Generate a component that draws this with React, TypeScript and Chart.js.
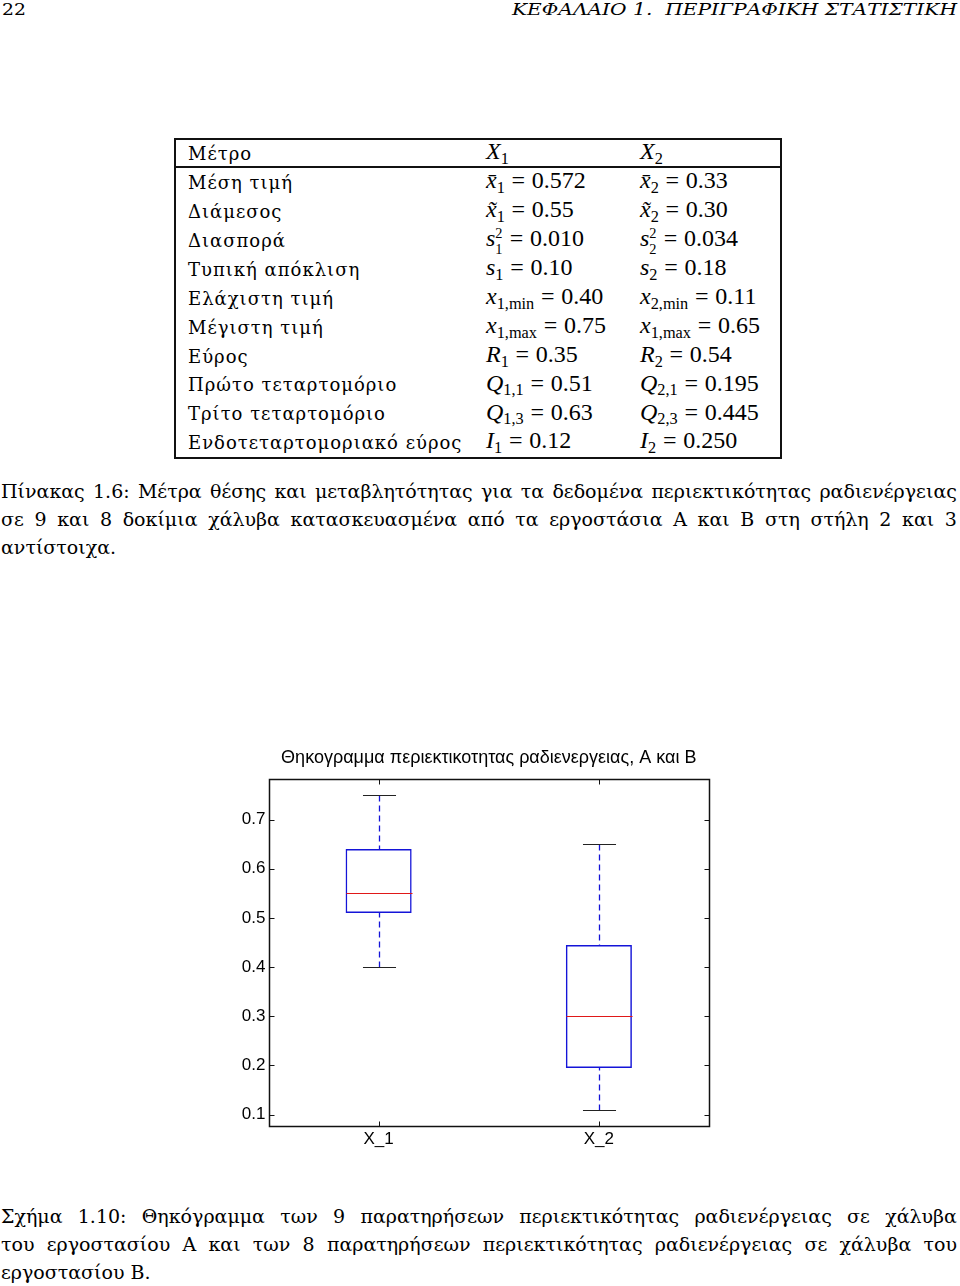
import React, { useEffect, useLayoutEffect, useRef } from "react";
import { Chart, registerables } from "chart.js";

Chart.register(...registerables);

// ---------- chart data ----------
const categories = ["X_1", "X_2"];
const whiskerLow = [0.4, 0.11];
const lowerQuartile = [0.51, 0.195];
const medians = [0.55, 0.3];
const upperQuartile = [0.64, 0.445];
const whiskerHigh = [0.75, 0.65];
const yTickValues = [0.1, 0.2, 0.3, 0.4, 0.5, 0.6, 0.7];
const yAxisMin = 0.0775;
const yAxisMax = 0.7825;
const chartTitle = "Θηκογραμμα περιεκτικοτητας ραδιενεργειας, Α και Β";

// ---------- table data ----------
const tableHead = ["Μέτρο", "X", "X"];
const tableRowLabels = [
  "Μέση τιμή",
  "Διάμεσος",
  "Διασπορά",
  "Τυπική απόκλιση",
  "Ελάχιστη τιμή",
  "Μέγιστη τιμή",
  "Εύρος",
  "Πρώτο τεταρτομόριο",
  "Τρίτο τεταρτομόριο",
  "Ενδοτεταρτομοριακό εύρος",
];
const x1Values = ["0.572", "0.55", "0.010", "0.10", "0.40", "0.75", "0.35", "0.51", "0.63", "0.12"];
const x2Values = ["0.33", "0.30", "0.034", "0.18", "0.11", "0.65", "0.54", "0.195", "0.445", "0.250"];

// ---------- page text ----------
const headerLeft = "22";
const headerRight = "ΚΕΦΑΛΑΙΟ 1.  ΠΕΡΙΓΡΑΦΙΚΗ ΣΤΑΤΙΣΤΙΚΗ";
const tableCaption = [
  "Πίνακας 1.6: Μέτρα θέσης και μεταβλητότητας για τα δεδομένα περιεκτικότητας ραδιενέργειας",
  "σε 9 και 8 δοκίμια χάλυβα κατασκευασμένα από τα εργοστάσια Α και Β στη στήλη 2 και 3",
  "αντίστοιχα.",
];
const figureCaption = [
  "Σχήμα 1.10: Θηκόγραμμα των 9 παρατηρήσεων περιεκτικότητας ραδιενέργειας σε χάλυβα",
  "του εργοστασίου Α και των 8 παρατηρήσεων περιεκτικότητας ραδιενέργειας σε χάλυβα του",
  "εργοστασίου Β.",
];

const BLUE = "#1414d8";
const RED = "#e01818";
const CAP = "#222";

const SERIF = "'DejaVu Serif', serif";
const MATH = "'Liberation Serif', 'Times New Roman', serif";

const boxExtras = {
  id: "boxExtras",
  afterDatasetsDraw(chart: any) {
    const { ctx, chartArea: a, scales } = chart;
    const x = scales.x;
    const y = scales.y;
    const meta = chart.getDatasetMeta(0);
    ctx.save();
    meta.data.forEach((el: any, i: number) => {
      const cx = Math.round(x.getPixelForValue(i)) + 0.5;
      const hw = el.width / 2;
      const pHi = Math.round(y.getPixelForValue(whiskerHigh[i])) + 0.5;
      const pLo = Math.round(y.getPixelForValue(whiskerLow[i])) + 0.5;
      const pQ1 = y.getPixelForValue(lowerQuartile[i]);
      const pQ3 = y.getPixelForValue(upperQuartile[i]);
      const pMed = Math.round(y.getPixelForValue(medians[i])) + 0.5;
      // whiskers
      ctx.lineWidth = 1.3;
      ctx.strokeStyle = BLUE;
      ctx.setLineDash([6, 4]);
      ctx.beginPath();
      ctx.moveTo(cx, pHi);
      ctx.lineTo(cx, pQ3);
      ctx.moveTo(cx, pLo);
      ctx.lineTo(cx, pQ1);
      ctx.stroke();
      ctx.setLineDash([]);
      // caps
      ctx.lineWidth = 1.2;
      ctx.strokeStyle = CAP;
      ctx.beginPath();
      ctx.moveTo(cx - hw / 2, pHi);
      ctx.lineTo(cx + hw / 2, pHi);
      ctx.moveTo(cx - hw / 2, pLo);
      ctx.lineTo(cx + hw / 2, pLo);
      ctx.stroke();
      // median
      ctx.strokeStyle = RED;
      ctx.beginPath();
      ctx.moveTo(cx - hw, pMed);
      ctx.lineTo(cx + hw, pMed);
      ctx.stroke();
    });
    // frame
    const L = Math.round(a.left) + 0.5;
    const R = Math.round(a.right) + 0.5;
    const T = Math.round(a.top) + 0.5;
    const B = Math.round(a.bottom) + 0.5;
    ctx.strokeStyle = "#111";
    ctx.lineWidth = 1.5;
    ctx.strokeRect(L, T, R - L, B - T);
    // inward ticks
    ctx.lineWidth = 1;
    ctx.beginPath();
    yTickValues.forEach((v) => {
      const py = Math.round(y.getPixelForValue(v)) + 0.5;
      ctx.moveTo(L, py);
      ctx.lineTo(L + 5, py);
      ctx.moveTo(R, py);
      ctx.lineTo(R - 5, py);
    });
    categories.forEach((_, i) => {
      const px = Math.round(x.getPixelForValue(i)) + 0.5;
      ctx.moveTo(px, B);
      ctx.lineTo(px, B - 5);
      ctx.moveTo(px, T);
      ctx.lineTo(px, T + 5);
    });
    ctx.stroke();
    // title centred over plot area
    ctx.fillStyle = "#000";
    ctx.font = "18px 'Liberation Sans', Arial, sans-serif";
    ctx.textAlign = "center";
    ctx.textBaseline = "middle";
    ctx.fillText(chartTitle, (a.left + a.right) / 2, 22);
    ctx.restore();
  },
};

function BoxChart() {
  const ref = useRef<HTMLCanvasElement>(null);
  useEffect(() => {
    if (!ref.current) return;
    const chart = new Chart(ref.current, {
      type: "bar",
      data: {
        labels: categories,
        datasets: [
          {
            data: lowerQuartile.map((q, i) => [q, upperQuartile[i]]) as any,
            backgroundColor: "rgba(0,0,0,0)",
            borderColor: BLUE,
            borderWidth: 1.5,
            borderSkipped: false,
            categoryPercentage: 1,
            barPercentage: 0.3,
          },
        ],
      },
      options: {
        responsive: false,
        animation: false,
        devicePixelRatio: 1,
        layout: { padding: { left: 0, right: 31, top: 43, bottom: 0 } },
        plugins: {
          legend: { display: false },
          tooltip: { enabled: false },
          title: { display: false },
        },
        scales: {
          x: {
            type: "category",
            offset: true,
            grid: { display: false, drawTicks: false },
            border: { display: false },
            ticks: {
              padding: 3,
              color: "#000",
              font: { family: "'Liberation Sans', Arial, sans-serif", size: 17 },
            },
            afterFit: (s: any) => {
              s.height = 34.3;
            },
          },
          y: {
            type: "linear",
            min: yAxisMin,
            max: yAxisMax,
            grid: { display: false, drawTicks: false },
            border: { display: false },
            afterBuildTicks: (s: any) => {
              s.ticks = yTickValues.map((v) => ({ value: v }));
            },
            afterFit: (s: any) => {
              s.width = 68.5;
            },
            ticks: {
              padding: 3,
              color: "#000",
              font: { family: "'Liberation Sans', Arial, sans-serif", size: 17 },
              callback: (v: any) => Number(v).toFixed(1),
            },
          },
        },
      },
      plugins: [boxExtras],
    });
    return () => chart.destroy();
  }, []);
  return (
    <canvas
      ref={ref}
      width={540}
      height={424}
      style={{ position: "absolute", left: 200, top: 736, width: 540, height: 424 }}
    />
  );
}

function FitText({ text, width, style }: { text: string; width: number; style: any }) {
  const ref = useRef<HTMLSpanElement>(null);
  useLayoutEffect(() => {
    const el = ref.current;
    if (!el) return;
    el.style.transform = "none";
    const w = el.getBoundingClientRect().width;
    if (w > 0) el.style.transform = `scaleX(${width / w})`;
  }, [text, width]);
  return (
    <span
      ref={ref}
      style={{ display: "inline-block", whiteSpace: "pre", transformOrigin: "left top", ...style }}
    >
      {text}
    </span>
  );
}

function Sub({ children }: { children: any }) {
  return <span style={{ fontSize: "0.68em", position: "relative", top: "0.3em" }}>{children}</span>;
}

// stacked superscript / subscript that does not change the line box
function SupSub({ sup, sub }: { sup: string; sub: string }) {
  const child: any = { position: "absolute", left: 0, fontSize: "0.6em", lineHeight: 0.9 };
  return (
    <span style={{ position: "relative", display: "inline-block", width: "0.32em", height: 1 }}>
      <span style={{ ...child, bottom: 6 }}>{sup}</span>
      <span style={{ ...child, bottom: -10 }}>{sub}</span>
    </span>
  );
}

function lhs(row: number, k: string) {
  switch (row) {
    case 0:
      return (
        <>
          <i>{"x\u0304"}</i>
          <Sub>{k}</Sub>
        </>
      );
    case 1:
      return (
        <>
          <i>{"x\u0303"}</i>
          <Sub>{k}</Sub>
        </>
      );
    case 2:
      return (
        <>
          <i>s</i>
          <SupSub sup="2" sub={k} />
        </>
      );
    case 3:
      return (
        <>
          <i>s</i>
          <Sub>{k}</Sub>
        </>
      );
    case 4:
      return (
        <>
          <i>x</i>
          <Sub>{k},min</Sub>
        </>
      );
    case 5:
      return (
        <>
          <i>x</i>
          <Sub>1,max</Sub>
        </>
      );
    case 6:
      return (
        <>
          <i>R</i>
          <Sub>{k}</Sub>
        </>
      );
    case 7:
      return (
        <>
          <i>Q</i>
          <Sub>{k},1</Sub>
        </>
      );
    case 8:
      return (
        <>
          <i>Q</i>
          <Sub>{k},3</Sub>
        </>
      );
    default:
      return (
        <>
          <i>I</i>
          <Sub>{k}</Sub>
        </>
      );
  }
}

const TXT_F = 18;
const TXT_L = 29;
const TXT_B = TXT_L / 2 + 0.346 * TXT_F;
const MATH_F = 24;
const MATH_B = TXT_L / 2 + 0.3375 * MATH_F;
const ROW0 = 160;
const PITCH = 28.9;
const COLS = [188, 486, 640];

const textCell = (left: number, top: number): any => ({
  position: "absolute",
  left,
  top,
  fontFamily: SERIF,
  fontSize: TXT_F,
  lineHeight: `${TXT_L}px`,
  letterSpacing: "1px",
  whiteSpace: "nowrap",
});
const mathCell = (left: number, top: number): any => ({
  position: "absolute",
  left,
  top,
  fontFamily: MATH,
  fontSize: MATH_F,
  lineHeight: `${TXT_L}px`,
  whiteSpace: "nowrap",
});

function Table() {
  const rows: any[] = [];
  rows.push(
    <div key="h0" style={textCell(COLS[0], ROW0 - TXT_B)}>
      {tableHead[0]}
    </div>
  );
  [1, 2].forEach((c) => {
    rows.push(
      <div key={"h" + c} style={mathCell(COLS[c], ROW0 - MATH_B)}>
        <i>{tableHead[c]}</i>
        <Sub>{c}</Sub>
      </div>
    );
  });
  tableRowLabels.forEach((label, i) => {
    const base = ROW0 + PITCH * (i + 1);
    rows.push(
      <div key={"l" + i} style={textCell(COLS[0], base - TXT_B)}>
        {label}
      </div>
    );
    [x1Values, x2Values].forEach((vals, c) => {
      rows.push(
        <div key={"v" + i + "_" + c} style={mathCell(COLS[c + 1], base - MATH_B)}>
          {lhs(i, String(c + 1))}
          <span style={{ margin: "0 0.28em" }}>=</span>
          {vals[i]}
        </div>
      );
    });
  });
  return (
    <>
      <div style={{ position: "absolute", left: 174, top: 138, width: 608, height: 321, border: "2px solid #111", boxSizing: "border-box" }} />
      <div style={{ position: "absolute", left: 174, top: 166, width: 608, height: 2, background: "#111" }} />
      {rows}
    </>
  );
}

const CAP_F = 19;
const CAP_L = 28;
const CAP_B = CAP_L / 2 + 0.346 * CAP_F;

function Caption({ lines, baselines }: { lines: string[]; baselines: number[] }) {
  return (
    <>
      {lines.map((line, i) => {
        const last = i === lines.length - 1;
        const common: any = {
          position: "absolute",
          left: 1,
          top: baselines[i] - CAP_B,
          fontFamily: SERIF,
          fontSize: CAP_F,
          lineHeight: `${CAP_L}px`,
          whiteSpace: "nowrap",
        };
        if (last) return <div key={i} style={common}>{line}</div>;
        return (
          <div key={i} style={{ ...common, width: 956, display: "flex", justifyContent: "space-between" }}>
            {line.split(" ").map((w, j) => (
              <span key={j}>{w}</span>
            ))}
          </div>
        );
      })}
    </>
  );
}

export default function App() {
  return (
    <div style={{ position: "absolute", left: 0, top: 0, width: 960, height: 1286, background: "#fff", overflow: "hidden", color: "#000" }}>
      <div style={{ position: "absolute", left: 2, top: -1, fontFamily: SERIF, fontSize: 17, lineHeight: "20px" }}>
        <FitText text={headerLeft} width={24} style={{}} />
      </div>
      <div style={{ position: "absolute", left: 512, top: -1, fontFamily: SERIF, fontSize: 17, lineHeight: "20px", fontStyle: "italic" }}>
        <FitText text={headerRight} width={445} style={{}} />
      </div>
      <Table />
      <Caption lines={tableCaption} baselines={[497.7, 525.9, 554]} />
      <BoxChart />
      <Caption lines={figureCaption} baselines={[1222.7, 1251, 1279]} />
    </div>
  );
}
